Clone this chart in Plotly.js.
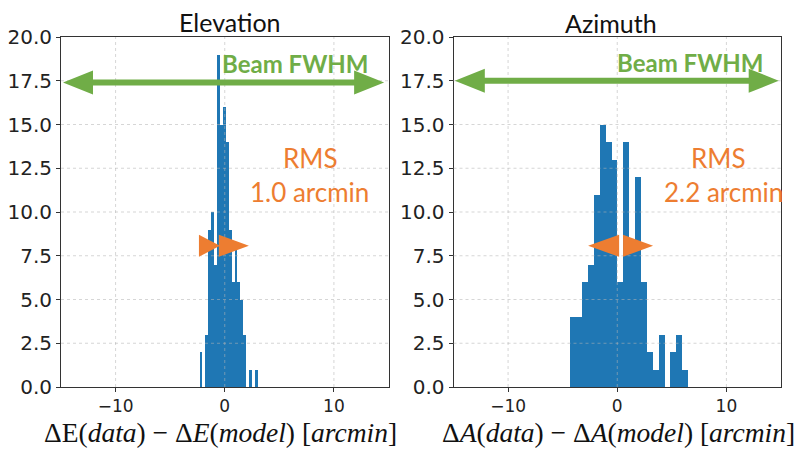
<!DOCTYPE html>
<html>
<head>
<meta charset="utf-8">
<script src="https://cdn.plot.ly/plotly-3.0.1.min.js"></script>
<style>html,body{margin:0;padding:0;background:#fff;}#chart{width:797px;height:449px;}</style>
</head>
<body>
<div id="chart"></div>
<script>
// ---------- data ----------
const elevBinCenters = [-2.177,-1.910,-1.643,-1.376,-1.109,-0.842,-0.575,-0.308,-0.041,0.226,
                        0.493,0.760,1.027,1.294,1.561,1.828,2.095,2.362,2.629,2.896];
const elevCounts     = [2,0,3,9,10,7,19,15,16,14,9,6,8,6,5,3,0,1,0,1];
const elevBinWidth   = 0.267;

const azBinCenters = [-4.017,-3.478,-2.940,-2.401,-1.863,-1.324,-0.786,-0.247,0.291,0.830,
                      1.368,1.907,2.445,2.984,3.522,4.061,4.599,5.138,5.676,6.215];
const azCounts     = [4,4,6,7,11,15,14,13,6,14,8,12,6,2,1,3,0,2,3,1];
const azBinWidth   = 0.5385;

const xTickVals = [-10, 0, 10];
const yTickVals = [0, 2.5, 5, 7.5, 10, 12.5, 15, 17.5, 20];
const panelTitles = ["Elevation", "Azimuth"];
const rmsLabels = ["1.0 arcmin", "2.2 arcmin"];
const xAxisLabels = [
  "ΔE(<i>data</i>) − Δ<i>E</i>(<i>model</i>) [<i>arcmin</i>]",
  "Δ<i>A</i>(<i>data</i>) − Δ<i>A</i>(<i>model</i>) [<i>arcmin</i>]"
];

// ---------- styles ----------
const BLUE = "#1f77b4", GREEN = "#70AD47", ORANGE = "#ED7D31";
const W = 797, H = 449;
const xDomL = [61/W, 388.5/W], xDomR = [453.5/W, 781/W];
const yDom = [(H-387)/H, (H-37)/H];

const traces = [
  {type:"bar", x:elevBinCenters, y:elevCounts, width:elevBinWidth, xaxis:"x", yaxis:"y",
   marker:{color:BLUE, line:{width:0}}, hoverinfo:"skip"},
  {type:"bar", x:azBinCenters, y:azCounts, width:azBinWidth, xaxis:"x2", yaxis:"y2",
   marker:{color:BLUE, line:{width:0}}, hoverinfo:"skip"}
];

function xax(dom, anchor){
  return {domain:dom, anchor:anchor, range:[-15,15], tickvals:xTickVals, ticks:"outside",
    ticklen:4, tickwidth:1, tickcolor:"#333", showgrid:false, zeroline:false,
    showline:true, mirror:true, linecolor:"#333", linewidth:1,
    tickfont:{family:"DejaVu Sans", size:17, color:"#222"}};
}
function yax(anchor){
  return {domain:yDom, anchor:anchor, range:[0,20], tickvals:yTickVals, tickformat:".1f",
    ticks:"outside", ticklen:4, tickwidth:1, tickcolor:"#333", showgrid:false, zeroline:false,
    showline:true, mirror:true, linecolor:"#333", linewidth:1,
    tickfont:{family:"DejaVu Sans", size:20, color:"#222"}};
}

const shapes = [];
// grid lines drawn above bars (matplotlib-like)
[["x","y"],["x2","y2"]].forEach(([xa,ya])=>{
  xTickVals.forEach(v=>shapes.push({type:"line", layer:"above", xref:xa, yref:ya+" domain",
    x0:v, x1:v, y0:0, y1:1, line:{color:"rgba(180,180,180,0.55)", width:1, dash:"dot"}}));
  yTickVals.slice(1,-1).forEach(v=>shapes.push({type:"line", layer:"above", xref:xa+" domain", yref:ya,
    x0:0, x1:1, y0:v, y1:v, line:{color:"rgba(180,180,180,0.55)", width:1, dash:"dot"}}));
});

function tri(xa, ya, xAnchor, yAnchor, len, half, dir, color){
  // dir = +1 points right, -1 points left; tip at anchor
  const p = `M0,0 L${-dir*len},${half} L${-dir*len},${-half} Z`;
  shapes.push({type:"path", layer:"above", xref:xa, yref:ya, xsizemode:"pixel", ysizemode:"pixel",
    xanchor:xAnchor, yanchor:yAnchor, path:p, fillcolor:color, line:{width:0}});
}
// green Beam FWHM arrows
shapes.push({type:"line", layer:"above", xref:"x", yref:"y", x0:-13.5, x1:13.3, y0:17.4, y1:17.4,
  line:{color:GREEN, width:6}});
tri("x","y",-14.82,17.4,30,12,-1,GREEN);
tri("x","y",14.6,17.4,30,12,1,GREEN);
shapes.push({type:"line", layer:"above", xref:"x2", yref:"y2", x0:-13.5, x1:13.4, y0:17.5, y1:17.5,
  line:{color:GREEN, width:6}});
tri("x2","y2",-14.88,17.5,30,12,-1,GREEN);
tri("x2","y2",14.79,17.5,30,12,1,GREEN);
// orange RMS arrows
tri("x","y",-0.44,8.07,21,11,1,ORANGE);
tri("x","y",2.21,8.07,30,11,1,ORANGE);
tri("x2","y2",-2.67,8.07,31,11,-1,ORANGE);
tri("x2","y2",3.28,8.07,30,11,1,ORANGE);

const calib = "Lato";
const annotations = [
  {xref:"paper", yref:"paper", x:230/W, y:1-22/H, text:panelTitles[0], showarrow:false,
   font:{family:calib, size:25, color:"#111"}, xanchor:"center", yanchor:"middle"},
  {xref:"paper", yref:"paper", x:611/W, y:1-23/H, text:panelTitles[1], showarrow:false,
   font:{family:calib, size:25, color:"#111"}, xanchor:"center", yanchor:"middle"},
  {xref:"x", yref:"y", x:6.45, y:18.51, text:"<b>Beam FWHM</b>", showarrow:false,
   font:{family:calib, size:24, color:GREEN}, xanchor:"center", yanchor:"middle"},
  {xref:"x2", yref:"y2", x:6.7, y:18.57, text:"<b>Beam FWHM</b>", showarrow:false,
   font:{family:calib, size:24, color:GREEN}, xanchor:"center", yanchor:"middle"},
  {xref:"x", yref:"y", x:7.83, y:13.09, text:"RMS", showarrow:false,
   font:{family:calib, size:26, color:ORANGE}, xanchor:"center", yanchor:"middle"},
  {xref:"x", yref:"y", x:7.74, y:11.14, text:rmsLabels[0], showarrow:false,
   font:{family:calib, size:26, color:ORANGE}, xanchor:"center", yanchor:"middle"},
  {xref:"x2", yref:"y2", x:9.29, y:13.09, text:"RMS", showarrow:false,
   font:{family:calib, size:26, color:ORANGE}, xanchor:"center", yanchor:"middle"},
  {xref:"x2", yref:"y2", x:9.75, y:11.14, text:rmsLabels[1], showarrow:false,
   font:{family:calib, size:26, color:ORANGE}, xanchor:"center", yanchor:"middle"},
  {xref:"paper", yref:"paper", x:220.5/W, y:1-432/H, text:xAxisLabels[0], showarrow:false,
   font:{family:"Liberation Serif", size:27.5, color:"#111"}, xanchor:"center", yanchor:"middle"},
  {xref:"paper", yref:"paper", x:618.5/W, y:1-432/H, text:xAxisLabels[1], showarrow:false,
   font:{family:"Liberation Serif", size:27.5, color:"#111"}, xanchor:"center", yanchor:"middle"}
];

const layout = {
  width:W, height:H, margin:{l:0,r:0,t:0,b:0}, paper_bgcolor:"#fff", plot_bgcolor:"#fff",
  showlegend:false, bargap:0,
  xaxis:xax(xDomL,"y"), yaxis:yax("x"),
  xaxis2:xax(xDomR,"y2"), yaxis2:yax("x2"),
  shapes:shapes, annotations:annotations
};
Plotly.newPlot("chart", traces, layout, {staticPlot:true, displayModeBar:false});
</script>
</body>
</html>
